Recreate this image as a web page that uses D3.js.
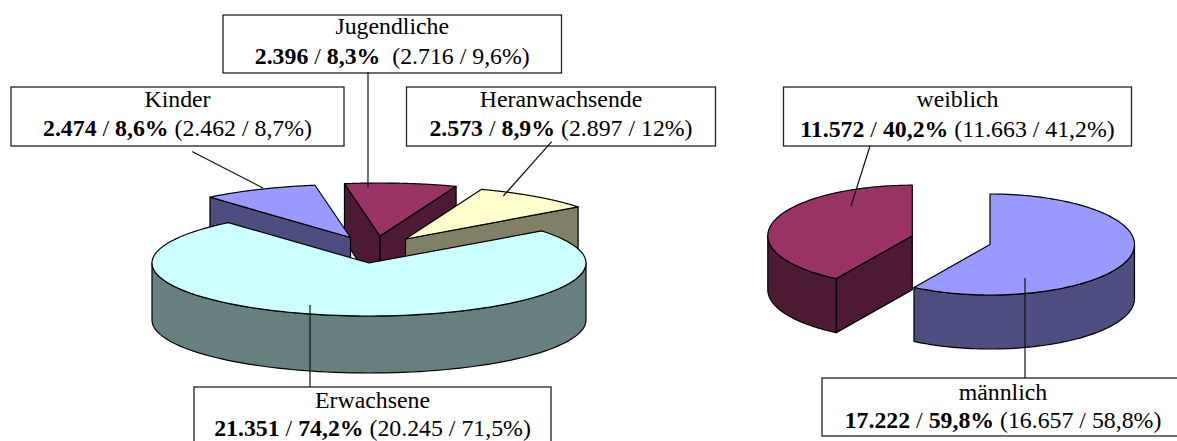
<!DOCTYPE html>
<html><head><meta charset="utf-8">
<script src="https://cdn.jsdelivr.net/npm/d3@7"></script>
<style>html,body{margin:0;padding:0;background:#fff}svg{display:block}</style></head>
<body><svg id="c" width="1177" height="441"></svg>
<script>
// ---- data ----
const ageCategories = ["Erwachsene", "Kinder", "Jugendliche", "Heranwachsende"];
const ageValues = [21351, 2474, 2396, 2573];
const genderCategories = ["männlich", "weiblich"];
// the right-hand pie is drawn with the bracketed shares (58,8 / 41,2)
const genderValues = [16657, 11663];
const ageLabelMain = ["21.351 / 74,2%", "2.474 / 8,6%", "2.396 / 8,3%", "2.573 / 8,9%"];
const ageLabelPrev = ["(20.245 / 71,5%)", "(2.462 / 8,7%)", "(2.716 / 9,6%)", "(2.897 / 12%)"];
const genderLabelMain = ["17.222 / 59,8%", "11.572 / 40,2%"];
const genderLabelPrev = ["(16.657 / 58,8%)", "(11.663 / 41,2%)"];
const topColors = {Erwachsene:"#CCFFFF",Kinder:"#9999FF",Jugendliche:"#993366",Heranwachsende:"#FFFFCC","männlich":"#9999FF",weiblich:"#993366"};
const sideColors = {Erwachsene:"#668080",Kinder:"#4D4D80",Jugendliche:"#4D1A33",Heranwachsende:"#808066","männlich":"#4D4D80",weiblich:"#4D1A33"};

const svg = d3.select("#c");
const deg = Math.PI/180;

function drawPie(cfg){
  const arcs = d3.pie().sort(null).value(d=>d.v)
    .startAngle(cfg.start*deg).endAngle(cfg.start*deg+2*Math.PI)(cfg.cats.map((c,i)=>({c,v:cfg.vals[i]})));
  const byName = new Map(arcs.map(a=>[a.data.c,a]));
  const line = d3.line();
  cfg.order.forEach(name=>{
    const a = byName.get(name), off = cfg.offset[name];
    const cx = cfg.cx+off[0], cy = cfg.cy+off[1];
    const pt = t=>[cx+cfg.rx*Math.sin(t), cy-cfg.ry*Math.cos(t)];
    const arcPts = (t0,t1,n)=>d3.range(0,n+1).map(i=>pt(t0+(t1-t0)*i/n));
    const down = p=>[p[0],p[1]+cfg.depth];
    const g = svg.append("g").attr("stroke","#000").attr("stroke-width",1.2).attr("stroke-linejoin","round");
    // only the radial walls that face the viewer
    const walls = [];
    const eps = 1e-6;
    if (Math.sin(a.startAngle) < -eps) walls.push(a.startAngle);
    if (Math.sin(a.endAngle) > eps) walls.push(a.endAngle);
    walls.forEach(t=>{
      const r = pt(t);
      g.append("path").attr("d",line([[cx,cy],r,down(r),[cx,cy+cfg.depth]])+"Z").attr("fill",sideColors[name]);
    });
    // the front part of the outer rim (90°..270°)
    const f0 = Math.max(a.startAngle,Math.PI/2), f1 = Math.min(a.endAngle,1.5*Math.PI);
    if (f1 > f0){
      const rim = arcPts(f0,f1,80);
      g.append("path").attr("d",line(rim.concat(rim.slice().reverse().map(down)))+"Z").attr("fill",sideColors[name]);
    }
    g.append("path").attr("d",line([[cx,cy],...arcPts(a.startAngle,a.endAngle,120)])+"Z").attr("fill",topColors[name]);
  });
}

drawPie({cats:ageCategories,vals:ageValues,start:52.7,cx:369,cy:263,rx:217,ry:53,depth:57,
  order:["Jugendliche","Heranwachsende","Kinder","Erwachsene"],
  offset:{Erwachsene:[0,0],Kinder:[-18.5,-25.5],Jugendliche:[11,-27],Heranwachsende:[36.5,-24]}});
drawPie({cats:genderCategories,vals:genderValues,start:0,cx:990,cy:244.5,rx:144.5,ry:50.5,depth:54,
  order:["weiblich","männlich"],
  offset:{"männlich":[0,0],weiblich:[-77.7,-8.8]}});

// label boxes
const boxes = [
 {name:"Jugendliche",main:ageLabelMain[2],prev:ageLabelPrev[2],x:223,y:15,w:338.5,h:58,gap:"\u00a0\u00a0",b1:19,b2:49},
 {name:"Kinder",main:ageLabelMain[1],prev:ageLabelPrev[1],x:11,y:87,w:333,h:59,gap:"\u00a0",b1:20,b2:49},
 {name:"Heranwachsende",main:ageLabelMain[3],prev:ageLabelPrev[3],x:406.5,y:87,w:309,h:59,gap:"\u00a0",b1:20,b2:49},
 {name:"weiblich",main:genderLabelMain[1],prev:genderLabelPrev[1],x:783.5,y:87,w:348,h:59,gap:"\u00a0",b1:20,b2:49.5},
 {name:"Erwachsene",main:ageLabelMain[0],prev:ageLabelPrev[0],x:194,y:387,w:357,h:70,gap:"\u00a0",b1:20.5,b2:49},
 {name:"männlich",main:genderLabelMain[0],prev:genderLabelPrev[0],x:822,y:378,w:362,h:58,gap:"\u00a0",b1:21.5,b2:49.5}
];
const b = svg.append("g").selectAll("g").data(boxes).join("g");
b.append("rect").attr("x",d=>d.x).attr("y",d=>d.y).attr("width",d=>d.w).attr("height",d=>d.h)
  .attr("fill","#fff").attr("stroke","#222").attr("stroke-width",1.3);
const font = "'Liberation Serif','Times New Roman',serif";
b.append("text").attr("text-anchor","middle").attr("font-family",font)
  .attr("font-size",23.8).attr("fill","#000").attr("x",d=>d.x+d.w/2).attr("y",d=>d.y+d.b1).text(d=>d.name);
const t2 = b.append("text").attr("text-anchor","middle").attr("font-family",font)
  .attr("font-size",23.8).attr("fill","#000").attr("x",d=>d.x+d.w/2).attr("y",d=>d.y+d.b2);
t2.each(function(d){
  const s=d3.select(this), p=d.main.split(" / ");
  s.append("tspan").attr("font-weight","bold").text(p[0]);
  s.append("tspan").text(" / ");
  s.append("tspan").attr("font-weight","bold").text(p[1]);
  s.append("tspan").text(d.gap+d.prev);
});

// leader lines
const leaders = [[192,151.5,263,188],[368,72,368,187.5],[551.7,141.7,503.3,196],[310,305,310,387],[870,146,851,206],[1025,278,1025,378]];
svg.append("g").selectAll("line").data(leaders).join("line")
  .attr("x1",d=>d[0]).attr("y1",d=>d[1]).attr("x2",d=>d[2]).attr("y2",d=>d[3])
  .attr("stroke","#111").attr("stroke-width",1.2);
</script></body></html>
